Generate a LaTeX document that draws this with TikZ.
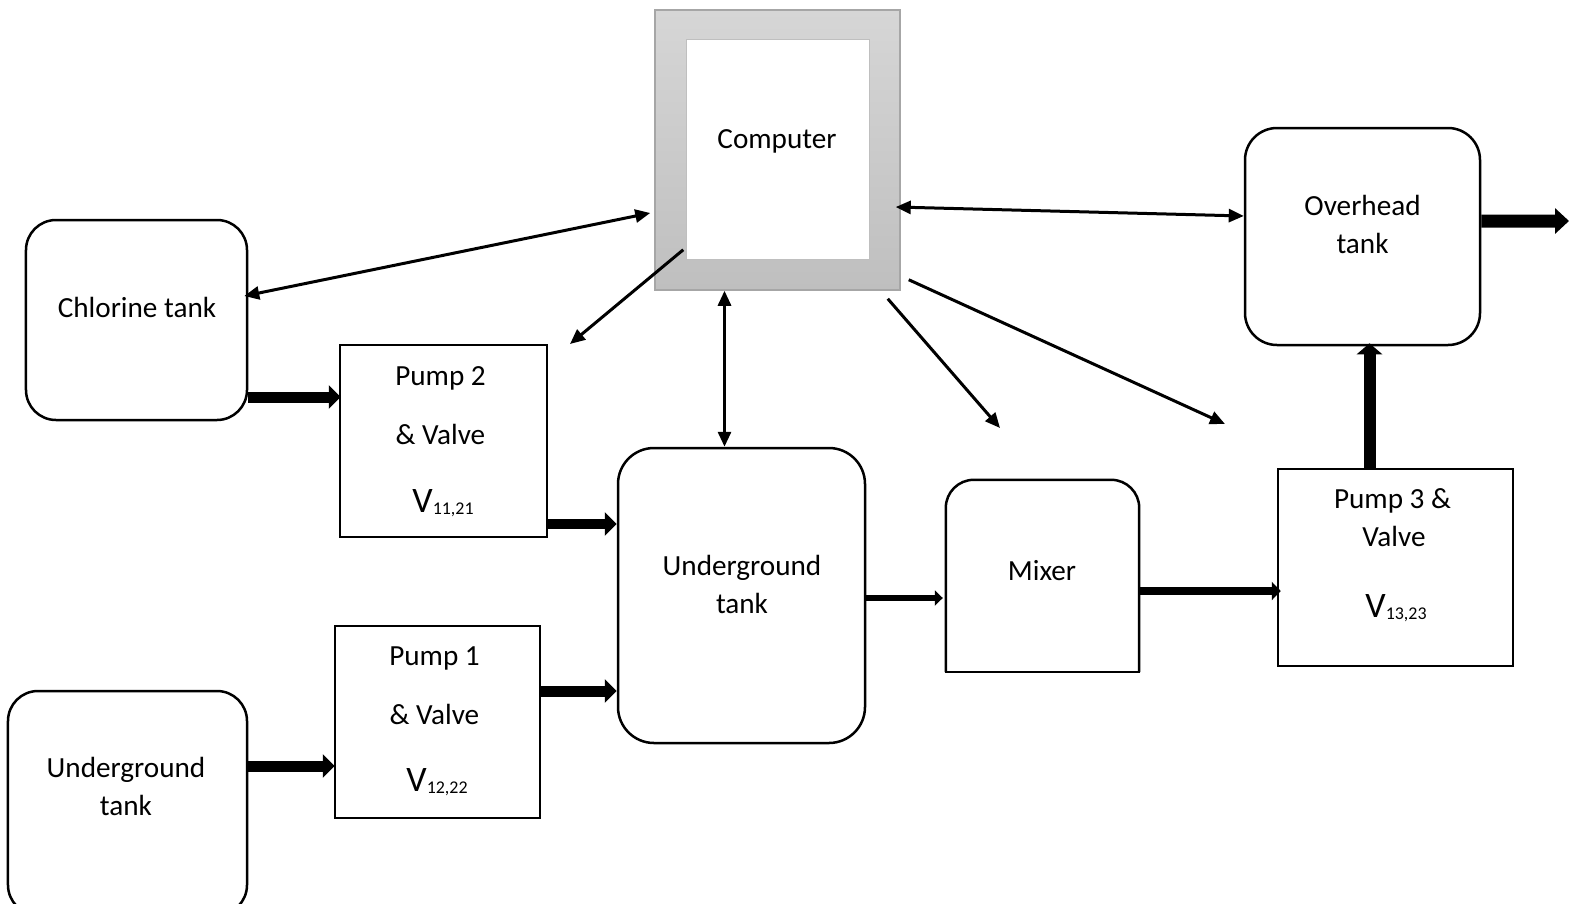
\documentclass[tikz,border=0pt]{standalone}
\usepackage{fontspec}
\setmainfont{Carlito}
\usetikzlibrary{arrows.meta}
\definecolor{compTop}{HTML}{D6D6D6}
\definecolor{compBot}{HTML}{BFBFBF}
\definecolor{compEdge}{HTML}{A6A6A6}
\newcommand{\valvelabel}[1]{\fontsize{36}{42}\selectfont V\raisebox{-2bp}{\fontsize{18}{20}\selectfont #1}}
\begin{document}
\begin{tikzpicture}[x=1bp,y=-1bp,
  box/.style={draw, line width=2.5bp, inner sep=0pt, fill=white},
  tank/.style={box, rounded corners=30bp},
  lbl/.style={inner sep=0pt, anchor=base, font=\fontsize{29.3}{35}\selectfont},
  sig/.style={line width=3bp, -{Triangle[length=15bp,width=13bp]}},
  sigboth/.style={line width=3bp, {Triangle[length=15bp,width=13bp]}-{Triangle[length=15bp,width=13bp]}},
  flow/.style={line width=11bp, -{Triangle[length=12bp,width=23bp]}},
  flowmid/.style={line width=8bp, -{Triangle[length=9bp,width=18bp]}},
  flowsm/.style={line width=6.5bp, -{Triangle[length=8bp,width=15bp]}},
]
\useasboundingbox (0,0) rectangle (1579,903);

% computer
\node[draw=compEdge, line width=1.5bp, top color=compTop, bottom color=compBot,
      minimum width=245bp, minimum height=280bp, inner sep=0pt] (comp) at (777.5,150) {};
\node[draw=compBot, line width=1bp, fill=white, minimum width=183bp,
      minimum height=219bp, inner sep=0pt] (screen) at (777.5,149.5) {};
\node[lbl] (tcomp) at (777,148) {Computer};

% tanks
\node[tank, minimum width=221bp, minimum height=200bp] (chl) at (136.5,320) {};
\node[lbl] (tchl) at (137,317) {Chlorine tank};

\node[tank, minimum width=239bp, minimum height=224bp] (ugl) at (127.5,803) {};
\node[lbl] (tugl1) at (126,777) {Underground};
\node[lbl] (tugl2) at (126,815) {tank};

\node[tank, rounded corners=36bp, minimum width=247bp, minimum height=295bp] (ugm) at (741.5,595.5) {};
\node[lbl] (tugm1) at (742,575) {Underground};
\node[lbl] (tugm2) at (742,613) {tank};

\node[tank, rounded corners=32bp, minimum width=235bp, minimum height=217bp] (ovh) at (1362.5,236.5) {};
\node[lbl] (tovh1) at (1362.5,215) {Overhead};
\node[lbl] (tovh2) at (1362.5,253) {tank};

% mixer: rounded top, square bottom
\node[inner sep=0pt, fill=white, minimum width=193bp, minimum height=192bp] (mix) at (1042.5,576) {};
\draw[line width=2.5bp, rounded corners=28bp] (mix.south west) -- (mix.north west) -- (mix.north east) -- (mix.south east);
\draw[line width=2.5bp, line cap=rect] (mix.south west) -- (mix.south east);
\node[lbl] (tmix) at (1042,580) {Mixer};

% pumps and valves
\node[box, minimum width=207bp, minimum height=192bp] (p2) at (443.5,441) {};
\node[lbl] (tp2a) at (440.5,385) {Pump 2};
\node[lbl] (tp2b) at (440.5,444) {\& Valve};
\node[lbl] (tp2c) at (443,512) {\valvelabel{11,21}};

\node[box, minimum width=205bp, minimum height=192bp] (p1) at (437.5,722) {};
\node[lbl] (tp1a) at (434.5,665) {Pump 1};
\node[lbl] (tp1b) at (434.5,724) {\& Valve};
\node[lbl] (tp1c) at (437,791) {\valvelabel{12,22}};

\node[box, minimum width=235bp, minimum height=197bp] (p3) at (1395.5,567.5) {};
\node[lbl] (tp3a) at (1392.5,508) {Pump 3 \&};
\node[lbl] (tp3b) at (1394,546) {Valve};
\node[lbl] (tp3c) at (1396,617) {\valvelabel{13,23}};

% free ends of the control lines
\coordinate (endp2) at (570,344);
\coordinate (endmix) at (1000,428);
\coordinate (endp3) at (1225,424);
\coordinate (out) at (1569,221);

% control / signal lines
\draw[sigboth] ([xshift=-4bp,yshift=24bp]chl.east) -- ([xshift=-4bp,yshift=-63bp]comp.west);
\draw[sig] ([xshift=29bp,yshift=41bp]comp.south west) -- (endp2);
\draw[sigboth] ([xshift=-53bp]comp.south) -- ([xshift=-53bp]comp.south |- ugm.north);
\draw[sig] ([xshift=-13bp,yshift=-8bp]comp.south east) -- (endmix);
\draw[sig] ([xshift=8bp,yshift=11bp]comp.south east) -- (endp3);
\draw[sigboth] ([xshift=-5bp,yshift=-57bp]comp.east) -- ([yshift=20.5bp]ovh.west);

% water flow
\draw[flow] ([yshift=-77bp]chl.east) coordinate (f1) -- ([xshift=2bp]f1 -| p2.west);
\draw[flow, line width=10bp] ([yshift=-83bp]p2.east) coordinate (f2) -- (f2 -| ugm.west);
\draw[flow] ([yshift=37bp]ugl.east) coordinate (f3) -- ([xshift=1bp]f3 -| p1.west);
\draw[flow] ([yshift=31bp]p1.east) coordinate (f4) -- (f4 -| ugm.west);
\draw[flowsm] ([yshift=-2.5bp]ugm.east) coordinate (f5) -- ([xshift=-3bp]f5 -| mix.west);
\draw[flowmid] ([yshift=-15bp]mix.east) coordinate (f6) -- ([xshift=4bp]f6 -| p3.west);
\draw[flow, line width=12bp, -{Triangle[length=11bp,width=25bp]}] ([xshift=-26bp]p3.north) coordinate (f7) -- ([yshift=3bp]f7 |- ovh.south);
\draw[flow, line width=13bp, -{Triangle[length=14bp,width=25bp]}] ([yshift=15.5bp]ovh.east) -- (out);
\end{tikzpicture}
\end{document}
